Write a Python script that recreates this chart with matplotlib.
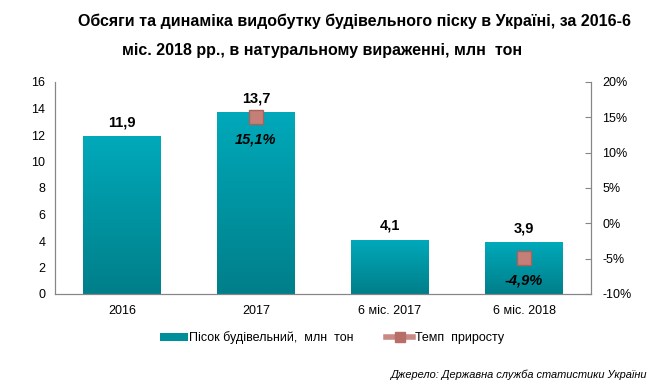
import numpy as np
import matplotlib
matplotlib.use("Agg")
import matplotlib.pyplot as plt
from matplotlib.lines import Line2D
from matplotlib.patches import Patch
from matplotlib.colors import LinearSegmentedColormap

plt.rcParams['font.family'] = ['Liberation Sans', 'DejaVu Sans']

categories = ["2016", "2017", "6 міс. 2017", "6 міс. 2018"]
volumes = [11.9, 13.7, 4.1, 3.9]
volume_labels = ["11,9", "13,7", "4,1", "3,9"]
growth = [np.nan, 15.1, np.nan, -4.9]
growth_labels = ["", "15,1%", "", "-4,9%"]

title1 = "Обсяги та динаміка видобутку будівельного піску в Україні, за 2016-6"
title2 = "міс. 2018 рр., в натуральному вираженні, млн  тон"
source = "Джерело: Державна служба статистики України"

grey = "#868686"
fig = plt.figure(figsize=(6.72, 3.91), dpi=100)
ax = fig.add_axes([55 / 672, 1 - 294 / 391, 536 / 672, 212 / 391])
ax2 = ax.twinx()

x = np.arange(len(categories))
bars = ax.bar(x, volumes, width=0.575, color="#00a0b0", zorder=2)

# vertical gradient inside each bar
cmap = LinearSegmentedColormap.from_list("teal", ["#007f8a", "#00a9ba"])
grad = np.linspace(0, 1, 100).reshape(-1, 1)
for b in bars:
    x0, y0 = b.get_x(), b.get_y()
    im = ax.imshow(grad, cmap=cmap, origin="lower", aspect="auto",
                   extent=[x0, x0 + b.get_width(), y0, y0 + b.get_height()], zorder=2)
    im.set_clip_path(b)

for xi, v, lab in zip(x, volumes, volume_labels):
    ax.text(xi, v + 0.55, lab, ha="center", va="bottom", fontsize=10.5, fontweight="bold")

ax.set_xlim(-0.5, 3.5)
ax.set_ylim(0, 16)
ax.set_yticks(range(0, 17, 2))
ax.set_xticks(x)
ax.set_xticklabels(categories)
ax.tick_params(axis="both", length=0, labelsize=9, pad=7)
ax.tick_params(axis="x", pad=8)

ax2.plot(x, growth, ls="none", marker="s", ms=9.5, mfc="#c47f78", mec="#a8625c", zorder=3)
for xi, g, lab in zip(x, growth, growth_labels):
    if lab:
        ax2.text(xi, g - 3.2, lab, ha="center", va="center", fontsize=10.5,
                 fontweight="bold", style="italic")
ax2.set_ylim(-10, 20)
ax2.set_yticks(range(-10, 21, 5))
ax2.set_yticklabels([f"{t}%" for t in range(-10, 21, 5)])
ax2.tick_params(axis="y", direction="in", length=4, color=grey, labelsize=9, pad=8)

for a in (ax, ax2):
    a.spines["top"].set_visible(False)
    for s in ("left", "right", "bottom"):
        a.spines[s].set_color(grey)
ax.set_zorder(ax2.get_zorder() - 1)
ax2.patch.set_visible(False)

handles = [Patch(facecolor="#008e9b", edgecolor="none"),
           Line2D([0], [0], color="#c98a84", lw=4, marker="s", ms=7,
                  mfc="#b86e68", mec="#b86e68")]
fig.legend(handles, ["Пісок будівельний,  млн  тон", "Темп  приросту"],
           loc="center", bbox_to_anchor=(332 / 672, 1 - 338 / 391), ncol=2,
           frameon=False, fontsize=9, handlelength=2.2, handleheight=0.6,
           columnspacing=2.6, handletextpad=0.1)

fig.text(78 / 672, 1 - 21 / 391, title1, ha="left", va="center", fontsize=11.5, fontweight="bold")
fig.text(122 / 672, 1 - 50 / 391, title2, ha="left", va="center", fontsize=11.5, fontweight="bold")
fig.text(390 / 672, 1 - 375 / 391, source, ha="left", va="center", fontsize=7.9, style="italic")

fig.savefig("out.png", dpi=100)
